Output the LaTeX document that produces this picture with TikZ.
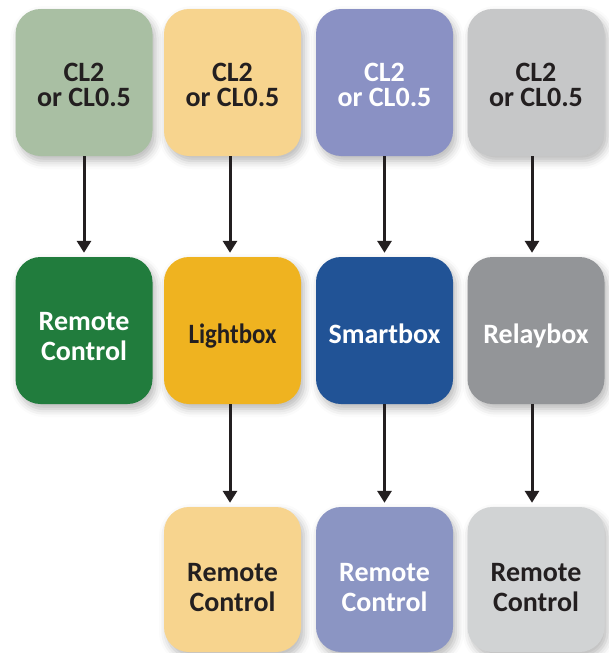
\documentclass[tikz,border=0pt]{standalone}
\usepackage{fontspec}
\setmainfont{Carlito}
\usetikzlibrary{arrows.meta,shadows.blur}
\definecolor{gA}{HTML}{A9BFA3}
\definecolor{yA}{HTML}{F7D48E}
\definecolor{pA}{HTML}{8A91C4}
\definecolor{sA}{HTML}{C6C7C8}
\definecolor{gB}{HTML}{217C3D}
\definecolor{yB}{HTML}{EFB320}
\definecolor{bB}{HTML}{215396}
\definecolor{sB}{HTML}{939598}
\definecolor{yC}{HTML}{F7D48E}
\definecolor{pC}{HTML}{8B95C3}
\definecolor{sC}{HTML}{D1D3D4}
\definecolor{ink}{HTML}{231F20}
\tikzset{
  box/.style={rectangle, rounded corners=25pt, minimum width=137pt, minimum height=147pt, inner sep=0pt,
    blur shadow={shadow xshift=3pt, shadow yshift=-5pt, shadow blur radius=8pt, shadow opacity=28}},
  lbl/.style={inner sep=0pt, align=center, font=\fontsize{28}{30}\selectfont\bfseries},
  flow/.style={line width=3pt, draw=ink, -{Triangle[width=14pt,length=12pt]}, shorten >=4pt}
}
\begin{document}
\begin{tikzpicture}[x=1pt,y=-1pt]
\useasboundingbox (0,0) rectangle (608,653);
% row 1
\node[box, fill=gA] (a1) at (84,82.5) {};
\node[box, fill=yA] (a2) at (232.5,82.5) {};
\node[box, fill=pA] (a3) at (384.5,82.5) {};
\node[box, fill=sA] (a4) at (536,82.5) {};
% row 2
\node[box, fill=gB] (b1) at (84,330.5) {};
\node[box, fill=yB] (b2) at (232.5,330.5) {};
\node[box, fill=bB] (b3) at (384.5,330.5) {};
\node[box, fill=sB] (b4) at (536,330.5) {};
% row 3
\node[box, fill=yC, minimum height=145pt] (c2) at (232.5,579.5) {};
\node[box, fill=pC, minimum height=145pt] (c3) at (384.5,579.5) {};
\node[box, fill=sC, minimum height=145pt] (c4) at (536,579.5) {};
% texts
\node[lbl, text=ink, font=\fontsize{28}{25.7}\selectfont\bfseries] (ta1) at (84,85) {CL2\\or CL0.5};
\node[lbl, text=ink, font=\fontsize{28}{25.7}\selectfont\bfseries] (ta2) at (232.5,85) {CL2\\or CL0.5};
\node[lbl, text=white, font=\fontsize{28}{25.7}\selectfont\bfseries] (ta3) at (384.5,85) {CL2\\or CL0.5};
\node[lbl, text=ink, font=\fontsize{28}{25.7}\selectfont\bfseries] (ta4) at (536,85) {CL2\\or CL0.5};
\node[lbl, text=white] (tb1) at (84,337) {Remote\\Control};
\node[lbl, text=ink, anchor=base] (tb2) at (232.5,343) {\scalebox{0.89}[1]{Lightbox}};
\node[lbl, text=white, anchor=base] (tb3) at (384.5,343) {Smartbox};
\node[lbl, text=white, anchor=base] (tb4) at (536,343) {Relaybox};
\node[lbl, text=ink] (tc2) at (232.5,588) {Remote\\Control};
\node[lbl, text=white] (tc3) at (384.5,588) {Remote\\Control};
\node[lbl, text=ink] (tc4) at (536,588) {Remote\\Control};
% arrows
\draw[flow] (a1.south) -- (b1.north);
\draw[flow] ([xshift=-2.5pt]a2.south) -- ([xshift=-2.5pt]b2.north);
\draw[flow] (a3.south) -- (b3.north);
\draw[flow] ([xshift=-4pt]a4.south) -- ([xshift=-4pt]b4.north);
\draw[flow] ([xshift=-2.5pt]b2.south) -- ([xshift=-2.5pt]c2.north);
\draw[flow] (b3.south) -- (c3.north);
\draw[flow] ([xshift=-4pt]b4.south) -- ([xshift=-4pt]c4.north);
\end{tikzpicture}
\end{document}
